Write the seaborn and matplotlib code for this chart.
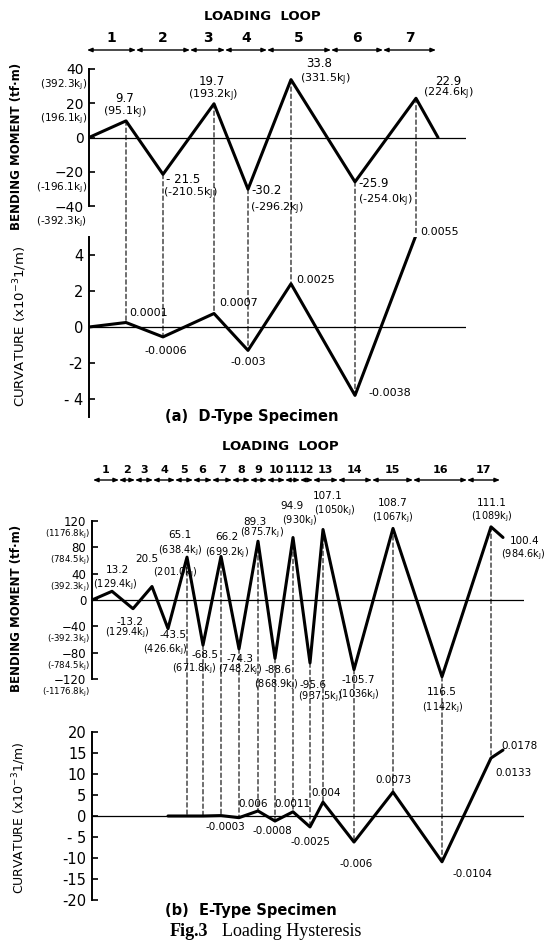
import matplotlib
matplotlib.use("Agg")
import matplotlib.pyplot as plt
import matplotlib.transforms as mtransforms
from matplotlib.patches import ConnectionPatch
import seaborn as sns

sns.set_style("white")
plt.rcParams["font.family"] = ["DejaVu Sans"]
plt.rcParams["text.color"] = "black"
plt.rcParams["ytick.color"] = "black"
plt.rcParams["ytick.labelcolor"] = "black"

# ---------------- (a) D-Type specimen ----------------
a_time = [0, 3.7, 7.4, 12.5, 15.9, 20.2, 26.6, 32.7, 34.9]
a_moment = [0, 9.7, -21.5, 19.7, -30.2, 33.8, -25.9, 22.9, 0]
a_curv_time = [0, 3.7, 7.4, 12.5, 15.9, 20.2, 26.6, 32.7]
a_curv = [0, 0.25, -0.55, 0.75, -1.3, 2.4, -3.8, 5.1]
a_mom_text = ["9.7", "- 21.5", "19.7", "-30.2", "33.8", "-25.9", "22.9"]
a_mom_kj = ["(95.1kJ)", "(-210.5kJ)", "(193.2kJ)", "(-296.2kJ)", "(331.5kJ)", "(-254.0kJ)", "(224.6kJ)"]
a_curv_text = ["0.0001", "-0.0006", "0.0007", "-0.003", "0.0025", "-0.0038", "0.0055"]
a_loop_bounds = [-0.2, 4.7, 10.1, 13.6, 17.8, 24.2, 29.4, 34.7]
a_loop_names = ["1", "2", "3", "4", "5", "6", "7"]
a_mom_ticks = [40, 20, 0, -20, -40]
a_mom_ticklabels = ["40", "20", "0", "\u221220", "\u221240"]
a_mom_tick_kj = ["(392.3kJ)", "(196.1kJ)", "", "(-196.1kJ)", "(-392.3kJ)"]
a_curv_ticks = [4, 2, 0, -2, -4]
a_curv_ticklabels = ["4", "2", "0", "-2", "- 4"]

# ---------------- (b) E-Type specimen ----------------
b_time = [0, 2.0, 4.1, 6.0, 7.6, 9.5, 11.1, 12.9, 14.7, 16.6, 18.3, 20.1,
          21.8, 23.1, 26.2, 30.1, 35.0, 39.9, 41.1]
b_moment = [0, 13.2, -13.2, 20.5, -43.5, 65.1, -68.5, 66.2, -74.3, 89.3, -88.6,
            94.9, -95.6, 107.1, -105.7, 108.7, -116.5, 111.1, 95.0]
b_curv_time = [7.6, 9.5, 11.1, 12.9, 14.7, 16.6, 18.3, 20.1, 21.8, 23.1, 26.2,
               30.1, 35.0, 39.9, 41.1]
b_curv = [0, 0, 0, 0.1, -0.4, 1.2, -1.2, 1.0, -2.6, 3.3, -6.2, 5.7, -10.9, 13.8, 15.7]
b_mom_text = ["13.2", "-13.2", "20.5", "-43.5", "65.1", "-68.5", "66.2", "-74.3", "89.3",
              "-88.6", "94.9", "-95.6", "107.1", "-105.7", "108.7", "116.5", "111.1", "100.4"]
b_mom_kj = ["(129.4kJ)", "(129.4kJ)", "(201.0kJ)", "(426.6kJ)", "(638.4kJ)", "(671.8kJ)",
            "(699.2kJ)", "(748.2kJ)", "(875.7kJ)", "(868.9kJ)", "(930kJ)", "(937.5kJ)",
            "(1050kJ)", "(1036kJ)", "(1067kJ)", "(1142kJ)", "(1089kJ)", "(984.6kJ)"]
b_curv_text = ["-0.0003", "0.006", "-0.0008", "0.0011", "-0.0025", "0.004", "-0.006",
               "0.0073", "-0.0104", "0.0133", "0.0178"]
b_loop_bounds = [0.1, 2.7, 4.3, 6.1, 8.3, 10.1, 12.0, 14.0, 15.8, 17.5, 19.3, 20.8,
                 22.1, 24.6, 28.0, 32.1, 37.5, 40.8]
b_loop_names = [str(i) for i in range(1, 18)]
b_mom_ticks = [120, 80, 40, 0, -40, -80, -120]
b_mom_ticklabels = ["120", "80", "40", "0", "\u221240", "\u221280", "\u2212120"]
b_mom_tick_kj = ["(1176.8kJ)", "(784.5kJ)", "(392.3kJ)", "", "(-392.3kJ)", "(-784.5kJ)", "(-1176.8kJ)"]
b_curv_ticks = [20, 15, 10, 5, 0, -5, -10, -15, -20]
b_curv_ticklabels = ["20", "15", "10", "5", "0", "- 5", "-10", "-15", "-20"]

# ---------------- layout helpers ----------------
W, H = 547, 943
fig = plt.figure(figsize=(W / 100, H / 100), dpi=100)
BOLD = ["DejaVu Sans"]


def box(l, t, r, b):
    return [l / W, 1 - b / H, (r - l) / W, (b - t) / H]


def kj(s):
    return s.replace("kJ", r"k$_\mathregular{J}$")


def setup(ax, xlim, ylim, ticks, labels, kjs=None, lsize=10.5, kjsize=8, kjdy=15):
    ax.set_xlim(xlim)
    ax.set_ylim(ylim)
    for s in ["top", "right", "bottom"]:
        ax.spines[s].set_visible(False)
    ax.spines["left"].set_linewidth(1.4)
    ax.spines["left"].set_color("k")
    ax.set_xticks([])
    ax.set_yticks(ticks)
    ax.set_yticklabels(labels)
    ax.tick_params(axis="y", direction="in", length=4, width=1.2, pad=4,
                   labelsize=lsize, left=True, colors="k", labelcolor="k")
    ax.axhline(0, color="k", lw=0.9, zorder=1)
    ax.patch.set_visible(False)
    ax.set_xlabel("")
    ax.set_ylabel("")
    if kjs:
        for tk, s in zip(ticks, kjs):
            if s:
                ax.annotate(kj(s), xy=(0, tk), xycoords=ax.get_yaxis_transform(),
                            xytext=(-1.5, -kjdy * 0.72), textcoords="offset points",
                            ha="right", va="center", fontsize=kjsize, annotation_clip=False)


def vlabel(ax, t, v, text, dx, dy, fs=8):
    ax.annotate(kj(text), xy=(t, v), xytext=(dx * 0.72, -dy * 0.72),
                textcoords="offset points", ha="center", va="center",
                fontsize=fs, annotation_clip=False)


def connect(axA, axB, t, vA, vB):
    con = ConnectionPatch(xyA=(t, vA), coordsA=axA.transData, xyB=(t, vB),
                          coordsB=axB.transData, linestyle=(0, (4, 2.5)),
                          lw=0.8, color="k", zorder=0)
    fig.add_artist(con)


def loop_bar(ax, bounds, names, y_bar, y_num, title_x, y_title, fs_num):
    tr = mtransforms.blended_transform_factory(ax.transData, fig.transFigure)
    for i, nm in enumerate(names):
        ax.annotate("", xy=(bounds[i + 1], 1 - y_bar / H), xycoords=tr,
                    xytext=(bounds[i], 1 - y_bar / H), textcoords=tr,
                    arrowprops=dict(arrowstyle="<|-|>,head_length=0.3,head_width=0.12",
                                    lw=1.0, color="k", shrinkA=0, shrinkB=0),
                    annotation_clip=False)
        ax.text((bounds[i] + bounds[i + 1]) / 2, 1 - y_num / H, nm, transform=tr,
                ha="center", va="center", fontsize=fs_num, family=BOLD, fontweight="bold")
    fig.text(title_x / W, 1 - y_title / H, "LOADING  LOOP", ha="center", va="center",
             fontsize=9.5, family=BOLD, fontweight="bold")


# ---------------- panel (a) ----------------
axMa = fig.add_axes(box(89, 69, 466, 206))
axKa = fig.add_axes(box(89, 237, 466, 417))
setup(axMa, (0, 37.7), (-40, 40), a_mom_ticks, a_mom_ticklabels, a_mom_tick_kj,
      lsize=10, kjsize=7.5, kjdy=16)
setup(axKa, (0, 37.7), (-5, 5), a_curv_ticks, a_curv_ticklabels)
sns.lineplot(x=a_time, y=a_moment, ax=axMa, color="k", lw=2.2, sort=False)
sns.lineplot(x=a_curv_time, y=a_curv, ax=axKa, color="k", lw=2.2, sort=False)
axMa.set_ylim(-40, 40)
axKa.set_ylim(-5, 5)

a_mom_off = [(-1, -22), (20, 5), (-2, -22), (19, 1), (28, -16), (19, 2), (32, -17)]
a_kj_off = [(-1, -8), (27, 19), (-1, -8), (29, 20), (34, 0), (30, 19), (32, -4)]
a_curv_off = [(23, -9), (3, 14), (25, -10), (0, 12), (25, -4), (35, -2), (24, -3)]
for i in range(7):
    t = a_time[i + 1]
    vlabel(axMa, t, a_moment[i + 1], a_mom_text[i], *a_mom_off[i], fs=8.5)
    vlabel(axMa, t, a_moment[i + 1], a_mom_kj[i], *a_kj_off[i], fs=8)
    vlabel(axKa, a_curv_time[i + 1], a_curv[i + 1], a_curv_text[i], *a_curv_off[i], fs=8)
    connect(axMa, axKa, t, a_moment[i + 1], a_curv[i + 1])

loop_bar(axMa, a_loop_bounds, a_loop_names, 50, 38, 262, 16, 10)
fig.text(17 / W, 1 - 146 / H, "BENDING MOMENT (tf\u00b7m)", rotation=90, ha="center",
         va="center", fontsize=8.5, family=BOLD, fontweight="bold")
fig.text(20 / W, 1 - 326 / H, r"CURVATURE (x10$^{-3}$1/m)", rotation=90, ha="center",
         va="center", fontsize=9.5, family=BOLD)
fig.text(252 / W, 1 - 416 / H, "(a)  D-Type Specimen", ha="center", va="center",
         fontsize=10.5, family=BOLD, fontweight="bold")

# ---------------- panel (b) ----------------
axMb = fig.add_axes(box(92, 521, 524, 679))
axKb = fig.add_axes(box(92, 732, 524, 900))
setup(axMb, (0, 43.2), (-120, 120), b_mom_ticks, b_mom_ticklabels, b_mom_tick_kj,
      lsize=8.5, kjsize=6.2, kjdy=13.5)
setup(axKb, (0, 43.2), (-20, 20), b_curv_ticks, b_curv_ticklabels)
sns.lineplot(x=b_time, y=b_moment, ax=axMb, color="k", lw=2.2, sort=False)
sns.lineplot(x=b_curv_time, y=b_curv, ax=axKb, color="k", lw=2.2, sort=False)
axMb.set_ylim(-120, 120)
axKb.set_ylim(-20, 20)

b_mom_off = [(5, -21), (-3, 13), (-5, -28), (5, 6), (-7, -22), (2, 10), (6, -19), (1, 10),
             (-3, -19), (3, 12), (-1, -32), (3, 22), (5, -33), (4, 10), (0, -25), (0, 15),
             (1, -24), (22, 4)]
b_kj_off = [(3, -7), (-6, 24), (23, -14), (-3, 21), (-7, -6), (-9, 24), (6, -4), (1, 21),
            (4, -8), (1, 26), (7, -17), (10, 34), (12, -19), (5, 25), (0, -11), (1, 31),
            (1, -10), (20, 17)]
for i in range(18):
    t = b_time[i + 1]
    vlabel(axMb, t, b_moment[i + 1], b_mom_text[i], *b_mom_off[i], fs=7.5)
    vlabel(axMb, t, b_moment[i + 1], b_mom_kj[i], *b_kj_off[i], fs=7)

for j in range(5, 18):
    t = b_time[j]
    k = b_curv_time.index(t)
    connect(axMb, axKb, t, b_moment[j], b_curv[k])

b_curv_off = [(-14, 9), (-5, -7), (-3, 10), (-1, -8), (0, 15), (3, -9), (2, 22),
              (0, -12), (30, 12), (23, 15), (17, -4)]
for i in range(11):
    k = i + 4
    vlabel(axKb, b_curv_time[k], b_curv[k], b_curv_text[i], *b_curv_off[i], fs=7.5)

loop_bar(axMb, b_loop_bounds, b_loop_names, 480, 470, 280, 447, 8)
fig.text(17 / W, 1 - 608 / H, "BENDING MOMENT (tf\u00b7m)", rotation=90, ha="center",
         va="center", fontsize=8.5, family=BOLD, fontweight="bold")
fig.text(19 / W, 1 - 818 / H, r"CURVATURE (x10$^{-3}$1/m)", rotation=90, ha="center",
         va="center", fontsize=9, family=BOLD)
fig.text(251 / W, 1 - 911 / H, "(b)  E-Type Specimen", ha="center", va="center",
         fontsize=10.5, family=BOLD, fontweight="bold")

fig.text(170 / W, 1 - 932 / H, "Fig.3", ha="left", va="center", fontsize=13,
         family=["Liberation Serif", "DejaVu Serif"], fontweight="bold")
fig.text(222 / W, 1 - 932 / H, "Loading Hysteresis", ha="left", va="center", fontsize=13,
         family=["Liberation Serif", "DejaVu Serif"])

fig.savefig("out.png", dpi=100, facecolor="white")
